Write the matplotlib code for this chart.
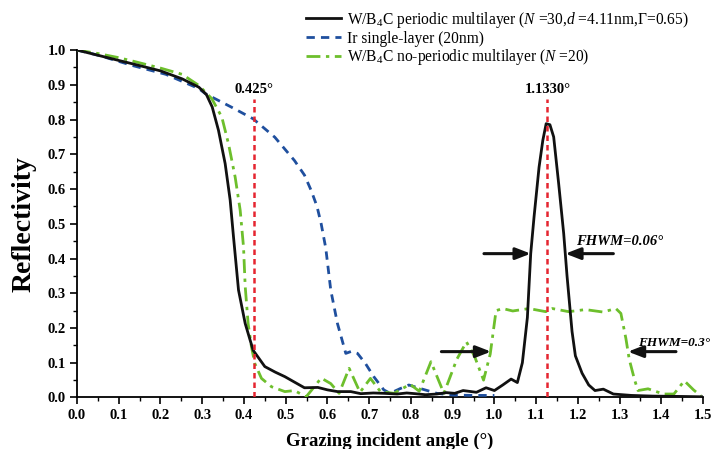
import matplotlib
matplotlib.use("Agg")
import matplotlib.pyplot as plt
import numpy as np

plt.rcParams['font.family'] = ['Liberation Serif', 'DejaVu Serif']
plt.rcParams['mathtext.fontset'] = 'custom'
plt.rcParams['mathtext.rm'] = 'Liberation Serif'
plt.rcParams['mathtext.it'] = 'Liberation Serif:italic'
plt.rcParams['mathtext.bf'] = 'Liberation Serif:bold'

# ---------------- data ----------------
periodic_x = [0.0, 0.05, 0.1, 0.134, 0.2, 0.252, 0.292, 0.31, 0.324, 0.339, 0.355, 0.367,
              0.375, 0.387, 0.403, 0.422, 0.45, 0.475, 0.498, 0.52, 0.545, 0.577, 0.6, 0.624,
              0.656, 0.68, 0.71, 0.735, 0.767, 0.79, 0.81, 0.835, 0.862, 0.885, 0.905, 0.925,
              0.957, 0.98, 1.0, 1.02, 1.04, 1.055, 1.067, 1.079, 1.087, 1.095, 1.107, 1.116,
              1.124, 1.133, 1.142, 1.154, 1.166, 1.174, 1.186, 1.194, 1.21, 1.226, 1.241,
              1.261, 1.285, 1.328, 1.38, 1.45, 1.5]
periodic_y = [1.0, 0.985, 0.97, 0.96, 0.94, 0.917, 0.893, 0.872, 0.836, 0.769, 0.673, 0.568,
              0.462, 0.309, 0.213, 0.136, 0.089, 0.073, 0.06, 0.045, 0.028, 0.029, 0.022, 0.017,
              0.017, 0.011, 0.013, 0.012, 0.01, 0.013, 0.011, 0.008, 0.01, 0.014, 0.012, 0.02,
              0.015, 0.028, 0.02, 0.036, 0.053, 0.043, 0.10, 0.23, 0.414, 0.52, 0.663, 0.74,
              0.788, 0.785, 0.75, 0.615, 0.472, 0.35, 0.19, 0.12, 0.07, 0.036, 0.02,
              0.024, 0.01, 0.006, 0.004, 0.003, 0.002]

ir_x = [0.0, 0.054, 0.134, 0.213, 0.292, 0.308, 0.371, 0.422, 0.474, 0.521, 0.545, 0.561,
        0.575, 0.585, 0.596, 0.608, 0.624, 0.644, 0.658, 0.672, 0.691, 0.711, 0.735, 0.75,
        0.775, 0.795, 0.822, 0.862, 0.9, 0.95, 1.0]
ir_y = [1.0, 0.984, 0.955, 0.93, 0.889, 0.874, 0.835, 0.802, 0.749, 0.682, 0.64, 0.596,
        0.55, 0.50, 0.43, 0.309, 0.213, 0.127, 0.133, 0.127, 0.098, 0.06, 0.022, 0.012,
        0.026, 0.036, 0.026, 0.012, 0.007, 0.006, 0.006]

nonper_x = [0.0, 0.05, 0.1, 0.134, 0.2, 0.252, 0.292, 0.323, 0.347, 0.363, 0.379, 0.391,
            0.399, 0.403, 0.41, 0.418, 0.426, 0.442, 0.466, 0.498, 0.521, 0.549, 0.568, 0.585,
            0.608, 0.628, 0.652, 0.678, 0.703, 0.727, 0.759, 0.798, 0.82, 0.848, 0.879, 0.91,
            0.933, 0.952, 0.974, 0.99, 1.004, 1.02, 1.044, 1.083, 1.123, 1.139, 1.178, 1.218,
            1.26, 1.291, 1.303, 1.315, 1.323, 1.336, 1.344, 1.368, 1.405, 1.43, 1.455, 1.477,
            1.495]
nonper_y = [1.0, 0.99, 0.978, 0.968, 0.948, 0.93, 0.898, 0.86, 0.807, 0.73, 0.634, 0.539,
            0.433, 0.32, 0.213, 0.146, 0.098, 0.055, 0.031, 0.017, 0.02, 0.002, 0.03, 0.056,
            0.04, 0.012, 0.084, 0.015, 0.055, 0.017, 0.012, 0.038, 0.018, 0.103, 0.012, 0.11,
            0.16, 0.12, 0.05, 0.125, 0.25, 0.256, 0.249, 0.256, 0.247, 0.256, 0.247, 0.253,
            0.246, 0.256, 0.242, 0.17, 0.11, 0.05, 0.02, 0.025, 0.01, 0.01, 0.048, 0.022,
            0.004]

labels = ['W/B$_4$C periodic multilayer ($N$ =30,$d$ =4.11nm,$\\mathit{\\Gamma}$=0.65)',
          'Ir single-layer (20nm)',
          'W/B$_4$C no-periodic multilayer ($N$ =20)']

marker_angles = [0.425, 1.127]
marker_texts = ['0.425°', '1.1330°']
marker_top = 0.86

fwhm_level = [0.414, 0.132]
fwhm_edges = [(1.087, 1.170), (0.992, 1.320)]
fwhm_tails = [(0.975, 1.285), (0.873, 1.435)]
fwhm_texts = ['FHWM=0.06°', 'FHWM=0.3°']
fwhm_text_pos = [(1.195, 0.45), (1.345, 0.157)]

x_ticks = np.round(np.arange(0, 1.51, 0.1), 1)
y_ticks = np.round(np.arange(0, 1.01, 0.1), 1)

# ---------------- figure ----------------
fig = plt.figure(figsize=(7.16, 4.49), dpi=100)
ax = fig.add_axes([0.1075, 0.1147, 0.8745, 0.7739])

black = '#111111'
blue = '#1f4f9e'
green = '#6dbf2c'
red = '#e52530'

l1, = ax.plot(periodic_x, periodic_y, color=black, lw=2.0, label=labels[0], zorder=4)
l2, = ax.plot(ir_x, ir_y, color=blue, lw=2.0, ls=(0, (3.0, 2.2)), label=labels[1], zorder=3)
l3, = ax.plot(nonper_x, nonper_y, color=green, lw=2.0, ls=(0, (5, 2, 1.2, 2)), label=labels[2], zorder=3)

ax.vlines(marker_angles, 0, marker_top, colors=red, lw=1.8, linestyles=(0, (2.2, 1.6)), zorder=5)
for a, t in zip(marker_angles, marker_texts):
    ax.text(a, marker_top + 0.008, t, ha='center', va='bottom', fontsize=10.5, fontweight='bold')

for lvl, (e1, e2), (t1, t2) in zip(fwhm_level, fwhm_edges, fwhm_tails):
    for tip, tail in ((e1, t1), (e2, t2)):
        ax.annotate('', xy=(tip, lvl), xytext=(tail, lvl),
                    arrowprops=dict(arrowstyle='-|>,head_length=0.9,head_width=0.35',
                                    color=black, lw=2.2, shrinkA=0, shrinkB=0), zorder=6)
for t, (tx, ty), fs in zip(fwhm_texts, fwhm_text_pos, [10.5, 9.5]):
    ax.text(tx, ty, t, ha='left', va='center', fontsize=fs, fontweight='bold',
            fontstyle='italic', clip_on=False)

ax.set_xlim(0, 1.5)
ax.set_ylim(0, 1.0)
ax.set_xticks(x_ticks)
ax.set_yticks(y_ticks)
ax.set_xticklabels([f'{v:.1f}' for v in x_ticks])
ax.set_yticklabels([f'{v:.1f}' for v in y_ticks])
ax.set_xticks(np.arange(0.05, 1.5, 0.1), minor=True)
ax.set_yticks(np.arange(0.05, 1.0, 0.1), minor=True)
for lab in ax.get_xticklabels() + ax.get_yticklabels():
    lab.set_fontweight('bold')
    lab.set_fontsize(10.5)
ax.tick_params(which='major', direction='out', length=5, width=1.2, pad=3)
ax.tick_params(which='minor', direction='out', length=3, width=1.0)
for s in ['top', 'right']:
    ax.spines[s].set_visible(False)
for s in ['left', 'bottom']:
    ax.spines[s].set_linewidth(1.3)

ax.set_xlabel('Grazing incident angle (°)', fontsize=13.5, fontweight='bold', labelpad=8)
ax.set_ylabel('Reflectivity', fontsize=20, fontweight='bold', labelpad=8)

fig.legend(handles=[l1, l2, l3], loc='upper left', bbox_to_anchor=(0.428, 0.978),
           frameon=False, fontsize=11.2, handlelength=2.2, handletextpad=0.4,
           labelspacing=0.05, borderpad=0, borderaxespad=0)

fig.savefig('out.png', dpi=100)
